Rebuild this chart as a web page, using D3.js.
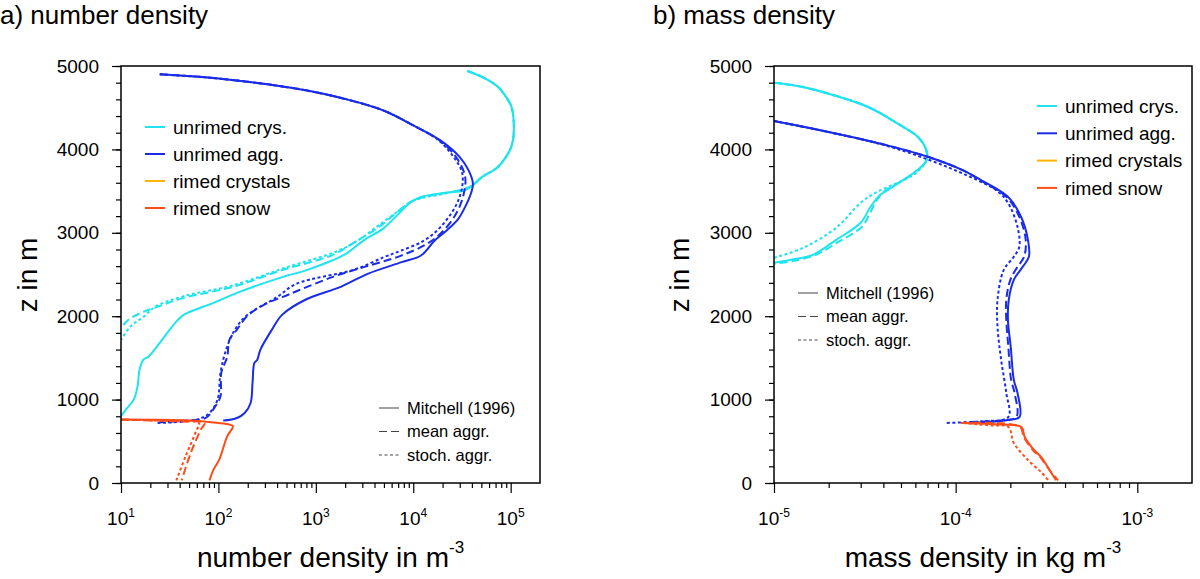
<!DOCTYPE html>
<html>
<head>
<meta charset="utf-8">
<script src="https://cdn.jsdelivr.net/npm/d3@7"></script>
<style>
  body { margin: 0; background: #fff; }
  svg { font-family: "Liberation Sans", Arial, sans-serif; }
</style>
</head>
<body>
<svg id="chart" width="1200" height="579"></svg>
<script>
// heights in m: [z, value]

// a) number density (m^-3)
var numCrysMitchell = [[4940,3.6e4],[4850,5.5e4],[4750,7.4e4],[4600,9.3e4],[4510,1.02e5],[4270,1.08e5],[4100,1.05e5],[3990,9.8e4],[3790,7.4e4],[3670,5.1e4],[3550,3.9e4],[3500,3.2e4],[3490,2.5e4],[3460,1.6e4],[3430,1.2e4],[3370,9.5e3],[3230,7.1e3],[3050,4.9e3],[2910,3.1e3],[2736,1.95e3],[2550,790],[2472,460],[2280,155],[2160,89],[2016,44],[1920,36],[1680,25],[1512,19],[1480,17],[1360,15.5],[1160,14.8],[1000,13.5],[880,11.2],[800,10]];
var numCrysMean = [[4940,3.6e4],[4850,5.5e4],[4750,7.4e4],[4600,9.3e4],[4510,1.02e5],[4270,1.08e5],[4100,1.05e5],[3990,9.8e4],[3790,7.4e4],[3670,5.1e4],[3550,3.8e4],[3480,2.2e4],[3440,1.4e4],[3400,1.07e4],[3340,8.5e3],[3252,6.9e3],[3050,4.2e3],[2900,2.6e3],[2736,1.5e3],[2556,460],[2352,141],[2220,44],[2100,22],[2040,16],[1960,12],[1860,10]];
var numCrysStoch = [[4940,3.6e4],[4850,5.5e4],[4750,7.4e4],[4600,9.3e4],[4510,1.02e5],[4270,1.08e5],[4100,1.05e5],[3990,9.8e4],[3790,7.4e4],[3670,5.1e4],[3550,3.8e4],[3470,2.1e4],[3420,1.26e4],[3370,9.5e3],[3260,7.0e3],[3080,4.3e3],[2920,2.8e3],[2780,1.66e3],[2580,480],[2370,141],[2240,44],[2120,23],[1992,17],[1880,12.6],[1716,10]];
var numAggMitchell = [[4900,25],[4870,63],[4836,130],[4780,320],[4708,790],[4608,1950],[4468,4.9e3],[4288,1.0e4],[4108,1.9e4],[3908,3.0e4],[3748,3.7e4],[3588,4.1e4],[3468,3.9e4],[3308,3.4e4],[3168,2.9e4],[3028,2.2e4],[2908,1.66e4],[2728,1.2e4],[2648,7.6e3],[2508,3.4e3],[2352,1.8e3],[2200,790],[2016,450],[1840,355],[1600,270],[1476,250],[1440,234],[1200,224],[960,214],[840,186],[780,155],[748,112]];
var numAggMean = [[4900,25],[4870,63],[4836,130],[4780,320],[4708,790],[4608,1950],[4468,4.9e3],[4288,1.0e4],[4108,1.86e4],[3908,2.75e4],[3680,3.4e4],[3468,3.3e4],[3228,2.75e4],[2988,1.9e4],[2860,1.35e4],[2724,7.4e3],[2588,3.1e3],[2472,1.5e3],[2308,660],[2232,460],[2160,320],[2008,200],[1840,155],[1720,130],[1512,123],[1320,107],[1040,105],[920,93],[780,74],[752,52],[728,25]];
var numAggStoch = [[4900,25],[4870,63],[4836,130],[4780,320],[4708,790],[4608,1950],[4468,4.9e3],[4288,1.0e4],[4108,1.82e4],[3908,2.6e4],[3700,3.2e4],[3388,2.9e4],[3068,1.9e4],[2900,1.26e4],[2784,7.4e3],[2708,5.0e3],[2560,2.5e3],[2388,630],[2230,400],[2008,195],[1840,148],[1600,120],[1320,105],[1000,98],[840,81],[760,60],[720,23]];
var numSnowMitchell = [[760,10],[748,52],[720,100],[700,130],[680,141],[560,123],[280,102],[160,89],[32,81]];
var numSnowMean = [[760,10],[740,40],[720,72],[640,66],[360,52],[32,42]];
var numSnowStoch = [[760,10],[738,40],[720,63],[600,58],[320,46],[32,37]];

// b) mass density (kg m^-3)
var massCrysMitchell = [[4800,1.0e-5],[4760,1.35e-5],[4668,2.0e-5],[4508,3.3e-5],[4308,4.8e-5],[4148,6.2e-5],[3988,6.9e-5],[3868,6.9e-5],[3756,6.2e-5],[3628,5.1e-5],[3508,4.2e-5],[3456,3.85e-5],[3312,3.4e-5],[3120,3.0e-5],[2916,2.2e-5],[2736,1.64e-5],[2680,1.26e-5],[2640,1.0e-5]];
var massCrysMean = [[4800,1.0e-5],[4760,1.35e-5],[4668,2.0e-5],[4508,3.3e-5],[4308,4.8e-5],[4148,6.2e-5],[3988,6.9e-5],[3868,6.9e-5],[3756,6.2e-5],[3628,5.1e-5],[3508,4.1e-5],[3400,3.7e-5],[3250,3.4e-5],[3072,3.05e-5],[2900,2.3e-5],[2736,1.7e-5],[2660,1.26e-5],[2630,1.0e-5]];
var massCrysStoch = [[4800,1.0e-5],[4760,1.35e-5],[4668,2.0e-5],[4508,3.3e-5],[4308,4.8e-5],[4148,6.2e-5],[3988,6.9e-5],[3868,6.9e-5],[3700,5.9e-5],[3492,3.7e-5],[3360,3.0e-5],[3060,2.2e-5],[2820,1.45e-5],[2700,1.0e-5]];
var massAggMitchell = [[4340,1.0e-5],[4208,2.0e-5],[4048,4.2e-5],[3908,7.1e-5],[3748,1.1e-4],[3636,1.37e-4],[3432,1.94e-4],[3192,2.29e-4],[2916,2.5e-4],[2712,2.53e-4],[2592,2.34e-4],[2436,2.09e-4],[2196,1.96e-4],[1956,1.94e-4],[1632,2.01e-4],[1236,2.09e-4],[1080,2.19e-4],[792,2.25e-4],[756,1.95e-4],[732,1.55e-4],[725,1.25e-4]];
var massAggMean = [[4340,1.0e-5],[4208,2.0e-5],[4048,4.2e-5],[3908,7.1e-5],[3748,1.1e-4],[3636,1.35e-4],[3432,1.9e-4],[3192,2.24e-4],[2916,2.43e-4],[2712,2.38e-4],[2592,2.19e-4],[2436,2.0e-4],[2196,1.9e-4],[1956,1.9e-4],[1632,1.95e-4],[1236,2.02e-4],[1080,2.11e-4],[792,2.16e-4],[750,1.78e-4],[730,1.12e-4]];
var massAggStoch = [[4340,1.0e-5],[4208,2.0e-5],[4048,4.1e-5],[3876,7.1e-5],[3700,1.12e-4],[3500,1.7e-4],[3360,1.94e-4],[3072,2.19e-4],[2832,2.24e-4],[2712,2.09e-4],[2556,1.84e-4],[2196,1.7e-4],[1872,1.7e-4],[1476,1.78e-4],[1080,1.9e-4],[792,1.95e-4],[740,1.41e-4],[720,8.7e-5]];
var massSnowMitchell = [[720,1.1e-4],[700,1.78e-4],[672,2.3e-4],[552,2.4e-4],[396,2.7e-4],[312,2.95e-4],[150,3.3e-4],[32,3.57e-4]];
var massSnowMean = [[720,1.07e-4],[672,2.26e-4],[552,2.37e-4],[396,2.66e-4],[312,2.92e-4],[150,3.3e-4],[32,3.66e-4]];
var massSnowStoch = [[720,1.1e-4],[690,1.58e-4],[672,1.95e-4],[480,2.09e-4],[276,2.5e-4],[132,2.95e-4],[32,3.24e-4]];

var categories = ["unrimed crys.", "unrimed agg.", "rimed crystals", "rimed snow"];
var catColors = ["#1ee4ef", "#1a2ce8", "#ffb300", "#ff4c17"];
var methods = ["Mitchell (1996)", "mean aggr.", "stoch. aggr."];
var methodDash = [null, "8,4", "3,2.5"];

var zTicks = [0, 1000, 2000, 3000, 4000, 5000];
var numTickExp = [1, 2, 3, 4, 5];
var massTickExp = [-5, -4, -3];

var svg = d3.select("#chart");

function drawPanel(opt) {
    var x = d3.scaleLog().domain(opt.xDomain).range([opt.left, opt.right]);
    var y = d3.scaleLinear().domain([0, 5000]).range([483, 66]);
    var g = svg.append("g");

    g.append("clipPath").attr("id", opt.id + "clip")
        .append("rect")
        .attr("x", opt.left).attr("y", 66)
        .attr("width", opt.right - opt.left).attr("height", 417);

    // minor y ticks
    g.append("g")
        .attr("transform", "translate(" + opt.left + ",0)")
        .call(d3.axisLeft(y).tickValues(d3.range(0, 5001, 200)).tickSize(5).tickFormat(""))
        .call(function (a) { a.select(".domain").remove(); });
    // major y ticks
    g.append("g")
        .attr("transform", "translate(" + opt.left + ",0)")
        .call(d3.axisLeft(y).tickValues(zTicks).tickSize(9).tickPadding(13).tickFormat(d3.format("d")))
        .call(function (a) {
            a.select(".domain").remove();
            a.selectAll("text").attr("font-size", 19).attr("fill", "#000")
                .attr("font-family", "Liberation Sans, Arial, sans-serif");
        });

    // x ticks
    var e0 = Math.log10(opt.xDomain[0]), e1 = Math.log10(opt.xDomain[1]);
    var minor = [];
    for (var e = Math.floor(e0); e <= Math.ceil(e1); e++) {
        for (var k = 2; k <= 9; k++) {
            var v = k * Math.pow(10, e);
            if (v > opt.xDomain[0] && v < opt.xDomain[1]) minor.push(v);
        }
    }
    g.append("g")
        .attr("transform", "translate(0,483)")
        .call(d3.axisBottom(x).tickValues(minor).tickSize(5).tickFormat(""))
        .call(function (a) { a.select(".domain").remove(); });
    g.append("g")
        .attr("transform", "translate(0,483)")
        .call(d3.axisBottom(x).tickValues(opt.majorExp.map(function (p) { return Math.pow(10, p); })).tickSize(10).tickFormat(""))
        .call(function (a) { a.select(".domain").remove(); });
    g.selectAll("text.xlab")
        .data(opt.majorExp)
        .enter().append("text")
        .attr("class", "xlab")
        .attr("x", function (p) { return x(Math.pow(10, p)); })
        .attr("y", 525)
        .attr("text-anchor", "middle")
        .attr("font-size", 19)
        .each(function (p) {
            var t = d3.select(this);
            t.append("tspan").text("10");
            t.append("tspan").attr("font-size", 12).attr("dy", -8).text(p);
        });
    g.selectAll(".tick line").attr("stroke", "#000").attr("stroke-width", 1.2);

    // data lines
    var line = d3.line()
        .curve(d3.curveCatmullRom.alpha(0.5))
        .x(function (d) { return x(d[1]); })
        .y(function (d) { return y(d[0]); });
    var lines = g.append("g").attr("clip-path", "url(#" + opt.id + "clip)");
    opt.series.forEach(function (s) {
        lines.append("path")
            .datum(s.data)
            .attr("d", line)
            .attr("fill", "none")
            .attr("stroke", catColors[s.cat])
            .attr("stroke-width", 2)
            .attr("stroke-dasharray", methodDash[s.method]);
    });

    // frame
    g.append("rect")
        .attr("x", opt.left).attr("y", 66)
        .attr("width", opt.right - opt.left).attr("height", 417)
        .attr("fill", "none").attr("stroke", "#000").attr("stroke-width", 1.5);

    // titles and axis labels
    g.append("text").attr("x", opt.titleX).attr("y", 24)
        .attr("font-size", 26).text(opt.title);
    g.append("text")
        .attr("transform", "translate(" + opt.zLabelX + ",275) rotate(-90)")
        .attr("text-anchor", "middle").attr("font-size", 28).text("z in m");
    var xl = g.append("text")
        .attr("x", (opt.left + opt.right) / 2).attr("y", 567)
        .attr("text-anchor", "middle").attr("font-size", 28);
    xl.append("tspan").text(opt.xLabel);
    xl.append("tspan").attr("font-size", 17).attr("dy", -14).text("-3");

    // legend of categories
    var leg1 = g.append("g").selectAll("g")
        .data(categories).enter().append("g")
        .attr("transform", function (d, i) {
            return "translate(" + opt.leg1X + "," + (opt.leg1Y + i * opt.leg1Step) + ")";
        });
    leg1.append("line").attr("x1", 0).attr("x2", 20)
        .attr("stroke", function (d, i) { return catColors[i]; })
        .attr("stroke-width", 2);
    leg1.append("text").attr("x", 28).attr("dy", "0.36em")
        .attr("font-size", 19).text(function (d) { return d; });

    // legend of methods
    var leg2 = g.append("g").selectAll("g")
        .data(methods).enter().append("g")
        .attr("transform", function (d, i) {
            return "translate(" + opt.leg2X + "," + (opt.leg2Y + i * 23.5) + ")";
        });
    leg2.append("line").attr("x1", 0).attr("x2", 20)
        .attr("stroke", "#444").attr("stroke-width", 1)
        .attr("stroke-dasharray", function (d, i) { return methodDash[i]; });
    leg2.append("text").attr("x", 28).attr("dy", "0.36em")
        .attr("font-size", 16.5).text(function (d) { return d; });
}

drawPanel({
    id: "num", left: 121, right: 540, xDomain: [10, 2e5], majorExp: numTickExp,
    title: "a) number density", titleX: 0, zLabelX: 37,
    xLabel: "number density in m",
    leg1X: 145, leg1Y: 127, leg1Step: 27,
    leg2X: 379, leg2Y: 408,
    series: [
        { data: numCrysMitchell, cat: 0, method: 0 },
        { data: numCrysMean, cat: 0, method: 1 },
        { data: numCrysStoch, cat: 0, method: 2 },
        { data: numAggMitchell, cat: 1, method: 0 },
        { data: numAggMean, cat: 1, method: 1 },
        { data: numAggStoch, cat: 1, method: 2 },
        { data: numSnowMitchell, cat: 3, method: 0 },
        { data: numSnowMean, cat: 3, method: 1 },
        { data: numSnowStoch, cat: 3, method: 2 }
    ]
});

drawPanel({
    id: "mass", left: 774, right: 1192, xDomain: [1e-5, 2e-3], majorExp: massTickExp,
    title: "b) mass density", titleX: 653, zLabelX: 689,
    xLabel: "mass density in kg m",
    leg1X: 1037, leg1Y: 106, leg1Step: 27.3,
    leg2X: 798, leg2Y: 293,
    series: [
        { data: massCrysMitchell, cat: 0, method: 0 },
        { data: massCrysMean, cat: 0, method: 1 },
        { data: massCrysStoch, cat: 0, method: 2 },
        { data: massAggMitchell, cat: 1, method: 0 },
        { data: massAggMean, cat: 1, method: 1 },
        { data: massAggStoch, cat: 1, method: 2 },
        { data: massSnowMitchell, cat: 3, method: 0 },
        { data: massSnowMean, cat: 3, method: 1 },
        { data: massSnowStoch, cat: 3, method: 2 }
    ]
});
</script>
</body>
</html>
